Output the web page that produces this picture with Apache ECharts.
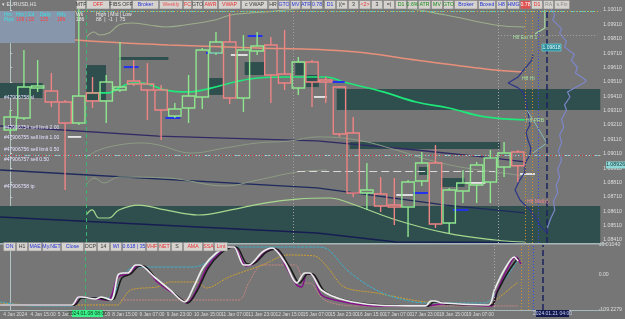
<!DOCTYPE html>
<html><head><meta charset="utf-8">
<script src="https://cdn.jsdelivr.net/npm/echarts@6/dist/echarts.min.js"></script>
<style>html,body{margin:0;padding:0;background:#767676;}#c{width:625px;height:319px;}</style>
</head><body><div id="c"></div>
<script>
// ---------- DATA ----------
// H8 candles (index = candle number)
const candleOpen  = [1.09175,1.09259,1.09467,1.09447,1.09370,1.09224,1.09433,1.09377,1.09453,1.09516,1.09495,1.09453,1.09273,1.09328,1.09405,1.09711,1.09787,1.09398,1.09725,1.09767,1.09565,1.09467,1.09648,1.09523,1.09474,1.09154,1.08737,1.08730,1.08653,1.08640,1.08820,1.08946,1.08528,1.08751,1.08793,1.08813,1.08918,1.09022];
const candleClose = [1.09266,1.09474,1.09481,1.09370,1.09224,1.09412,1.09377,1.09509,1.09474,1.09495,1.09453,1.09314,1.09321,1.09412,1.09732,1.09787,1.09398,1.09732,1.09760,1.09558,1.09502,1.09648,1.09509,1.09509,1.09147,1.08737,1.08758,1.08647,1.08640,1.08813,1.08946,1.08521,1.08758,1.08807,1.08932,1.08980,1.09015,1.08926];
const candleLow   = [1.09147,1.09245,1.09440,1.09335,1.08758,1.09210,1.09328,1.09224,1.09440,1.09481,1.09245,1.09106,1.09259,1.09224,1.09321,1.09697,1.09356,1.09300,1.09697,1.09363,1.09453,1.09419,1.09335,1.09363,1.09127,1.08709,1.08619,1.08605,1.08514,1.08431,1.08786,1.08493,1.08459,1.08667,1.08667,1.08667,1.08848,1.08813];
const candleHigh  = [1.09314,1.09732,1.09662,1.09572,1.09384,1.10024,1.09544,1.09558,1.09787,1.09662,1.09641,1.09488,1.09363,1.09558,1.09746,1.09857,1.09989,1.09836,1.09857,1.09822,1.09871,1.09683,1.09662,1.09544,1.09481,1.09266,1.08946,1.08848,1.08841,1.08827,1.09022,1.09071,1.08772,1.08897,1.08953,1.09036,1.09092,1.09036];
const lastPrice = 1.08926;

// indicator lines [time (H8 bars), price]
const maSalmon = [[-0.74,1.09871],[4.82,1.09801],[11.53,1.09767],[18.03,1.09746],[23.08,1.09732],[25.97,1.09711],[29.58,1.09662],[34.64,1.09600],[37.38,1.09579]];
const maGreen = [[5.54,1.09433],[7.20,1.09433],[7.92,1.09467],[8.86,1.09502],[9.58,1.09502],[11.31,1.09453],[12.97,1.09440],[14.64,1.09467],[16.37,1.09509],[18.03,1.09537],[20.41,1.09544],[23.08,1.09544],[24.31,1.09509],[27.20,1.09440],[29.58,1.09370],[31.96,1.09328],[34.64,1.09266],[37.52,1.09245]];
const bandUpper = [[5.54,1.09822],[6.12,1.09857],[6.48,1.09836],[7.20,1.09850],[7.92,1.09906],[8.86,1.09920],[10.09,1.09906],[11.31,1.09892],[12.76,1.09906],[14.92,1.09940],[16.08,1.09975],[18.53,1.09996],[22.36,1.10024],[28.14,1.10024],[31.75,1.09975],[35.36,1.09906],[37.52,1.09892]];
const bandMid = [[5.54,1.08987],[6.48,1.09036],[7.92,1.09071],[9.58,1.09085],[10.81,1.09071],[13.19,1.09015],[15.65,1.09050],[18.03,1.09085],[20.41,1.09099],[22.36,1.09127],[25.25,1.09106],[28.14,1.09036],[30.52,1.08967],[33.19,1.08911],[35.36,1.08883],[37.52,1.08855]];
const bandMid2 = [[5.54,1.08793],[6.12,1.08841],[6.84,1.08807],[7.92,1.08848],[11.53,1.08841],[15.65,1.08786],[18.03,1.08827],[20.92,1.08883],[23.08,1.08897]];
const bandLower = [[5.54,1.08584],[5.97,1.08619],[6.48,1.08563],[7.20,1.08563],[7.92,1.08619],[9.36,1.08653],[11.31,1.08619],[13.70,1.08584],[16.08,1.08619],[18.53,1.08667],[20.92,1.08695],[23.30,1.08702],[24.53,1.08674],[28.14,1.08549],[31.75,1.08459],[35.36,1.08410],[37.52,1.08396]];
const navy1 = [[-0.74,1.09203],[10.81,1.09133],[22.36,1.09099],[29.58,1.09036],[34.64,1.08987],[37.52,1.08953]];
const navy2 = [[-0.74,1.08897],[22.36,1.08772],[31.75,1.08653],[37.52,1.08598]];
const navy3 = [[-0.74,1.08570],[22.36,1.08459],[28.14,1.08396],[37.52,1.08392]];

// volume-profile outlines [time, price]
const profileA = [[39.33,1.10031],[39.69,1.09975],[39.55,1.09940],[40.19,1.09880],[40.05,1.09850],[40.55,1.09790],[40.41,1.09753],[41.13,1.09700],[40.90,1.09662],[41.35,1.09610],[41.20,1.09572],[42.00,1.09520],[41.80,1.09502],[40.62,1.09440],[40.80,1.09405],[40.41,1.09350],[40.55,1.09314],[40.19,1.09250],[40.35,1.09196],[40.05,1.09140],[40.19,1.09085],[39.95,1.09030],[40.19,1.08967],[39.91,1.08900],[40.05,1.08848],[39.80,1.08790],[39.91,1.08737],[39.60,1.08680],[39.69,1.08619],[39.40,1.08560],[39.18,1.08500],[39.11,1.08459]];
const profileB = [[38.10,1.09700],[38.03,1.09662],[37.50,1.09600],[37.02,1.09544],[36.29,1.09502],[37.00,1.09470],[37.38,1.09440],[37.55,1.09390],[37.67,1.09335],[37.80,1.09270],[37.88,1.09210],[37.60,1.09160],[37.74,1.09106],[37.95,1.09050],[37.88,1.09001],[37.52,1.08940],[37.52,1.08883],[37.10,1.08820],[36.80,1.08758],[37.16,1.08688],[37.88,1.08619],[38.30,1.08560],[38.61,1.08514],[39.11,1.08459]];
const profileC = [[38.97,1.10010],[38.97,1.09885],[38.25,1.09843]];
const profileD = [[37.67,1.09314],[38.40,1.09200],[39.11,1.09085],[38.11,1.09015]];

// zones [t1, t2, priceTop, priceBottom]
const zones = [[-1,44,1.08647,1.0830],[23.80,44,1.09460,1.09314],[24.74,35.72,1.09092,1.09043],[-1,2.36,1.09502,1.09398],[5.54,6.98,1.09627,1.09384],[7.92,11.53,1.09683,1.09662],[14.42,15.50,1.09537,1.09419],[17.09,18.53,1.09648,1.09558],[20.78,21.50,1.09641,1.09558],[21.57,22.50,1.09558,1.09474],[29.80,30.52,1.08918,1.08862],[31.39,33.12,1.08841,1.08779]];
// horizontal levels
const levelPrices = [1.09746,1.09565,1.09384,1.09168,1.09099,1.09015,1.08953,1.08926,1.08765,1.08626];
// partial levels [t1, t2, price]
const partialLevels = [[20.92,35.36,1.08890],[35.36,44,1.08973],[35.57,42.8,1.09836]];
// short marks [t1, t2, price]
const whiteMarks = [[4.20,5.18,1.09127],[16.08,17.31,1.09697],[22.14,23.08,1.09405],[28.14,29.36,1.08723],[33.19,34.64,1.08807],[37.16,38.25,1.08869]];
const blueMarks = [[8.28,9.36,1.09613],[11.31,12.40,1.09259],[14.27,15.36,1.09711],[17.31,18.39,1.09829],[23.44,24.38,1.09509],[29.36,30.45,1.08737],[32.25,33.41,1.08619]];
// vertical lines (time)
const vLines = [5.54,20.63,35.57,37.52,38.03,38.46,39.11];

// oscillator [time, value]
const oscWhite = [[-0.74,-93.6],[4.53,-93.6],[5.03,-68.8],[5.25,-68.8],[6.26,-75.0],[6.69,-68.8],[7.42,-78.1],[7.92,-0.3],[8.28,5.9],[8.64,5.9],[9.22,30.8],[9.51,30.8],[10.59,-6.5],[11.75,-47.0],[12.83,-84.3],[13.48,-37.6],[14.20,24.5],[15.14,68.1],[16.08,86.8],[16.44,86.8],[17.16,30.8],[17.52,30.8],[18.53,71.2],[19.26,83.7],[20.20,37.0],[21.06,-25.2],[21.64,5.9],[22.00,5.9],[22.87,-47.0],[24.53,-78.1],[26.91,-93.6],[30.52,-96.7],[30.88,-81.2],[31.18,-81.2],[31.75,-87.4],[35.14,-93.6],[35.57,-47.0],[36.29,15.2],[37.02,55.7],[37.31,43.2]];
const oscBlack = [[-0.74,-93.6],[4.74,-93.6],[5.25,-71.9],[6.48,-71.9],[7.20,-78.1],[7.63,-75.0],[8.21,-9.7],[8.86,2.8],[9.51,27.7],[9.80,27.7],[10.81,-15.9],[12.11,-59.4],[13.05,-87.4],[13.77,-47.0],[14.56,21.4],[15.43,65.0],[16.37,86.8],[16.73,83.7],[17.45,33.9],[17.81,33.9],[18.82,71.2],[19.55,80.6],[20.49,27.7],[21.28,-25.2],[21.86,2.8],[22.22,2.8],[23.08,-50.1],[24.89,-81.2],[27.42,-93.6],[30.74,-96.7],[31.10,-84.3],[31.46,-84.3],[32.11,-90.5],[35.36,-93.6],[35.79,-53.2],[36.58,9.0],[37.31,52.6]];
const oscPurple = [[-0.74,-93.6],[4.67,-93.6],[5.03,-68.8],[5.75,-71.9],[7.20,-78.1],[7.92,-6.5],[8.64,2.8],[9.36,27.7],[9.73,27.7],[10.81,-22.1],[12.25,-65.6],[12.97,-87.4],[13.70,-47.0],[14.42,21.4],[15.29,65.0],[16.23,86.8],[16.58,83.7],[17.09,40.1],[17.31,27.7],[17.88,33.9],[18.75,71.2],[19.47,80.6],[20.20,30.8],[21.06,-31.4],[21.42,-37.6],[21.79,2.8],[22.22,-0.3],[22.87,-62.5],[24.53,-84.3],[26.91,-96.7],[30.52,-96.7],[31.75,-90.5],[35.36,-96.7],[35.72,-56.3],[36.44,12.1],[37.16,55.7],[37.52,33.9]];
const oscCyan = [[-0.74,-84.3],[1.64,-96.7],[4.53,-96.7],[5.03,-71.9],[7.42,-71.9],[7.92,-31.4],[8.86,21.4],[9.58,24.5],[13.48,24.5],[14.64,43.2],[16.08,86.8],[22.36,86.8],[23.30,80.6],[24.74,15.2],[26.48,-37.6],[28.14,-68.8],[30.52,-87.4],[34.85,-87.4],[36.29,-15.9],[37.31,46.3]];
const oscOrange = [[-0.74,-87.4],[1.64,-93.6],[7.92,-93.6],[8.14,-84.3],[8.86,-47.0],[10.81,-37.6],[11.75,-22.1],[13.70,-22.1],[14.42,-40.8],[16.08,-6.5],[18.53,30.8],[20.41,61.9],[22.36,58.8],[23.30,24.5],[24.53,-37.6],[26.91,-56.3],[30.52,-84.3],[35.14,-93.6],[35.87,-71.9],[37.31,-22.1]];
const oscRosy = [[8.14,-78.1],[16.80,-78.1],[17.52,-25.2],[18.53,30.8],[20.92,30.8],[21.64,-25.2],[22.00,-25.2],[23.08,-78.1],[25.25,-96.7],[37.31,-96.7]];

// axes / ticks
const priceTicks = [1.08410,1.08510,1.08610,1.08710,1.08810,1.08910,1.09010,1.09110,1.09210,1.09310,1.09410,1.09510,1.09610,1.09710,1.09810,1.09910,1.10010];
const timeTickT = [-0.5,1.5,3.5,5.5,7.5,9.5,11.5,13.5,15.5,17.5,19.5,21.5,23.5,25.5,27.5,29.5,31.5,33.5,35.5];
const timeLabels = ["4 Jan 2024","4 Jan 15:00","5 Jan 07:00","5 Jan 23:00","8 Jan 15:00","9 Jan 07:00","9 Jan 23:00","10 Jan 15:00","11 Jan 07:00","11 Jan 23:00","12 Jan 15:00","15 Jan 07:00","15 Jan 23:00","16 Jan 15:00","17 Jan 07:00","17 Jan 23:00","18 Jan 15:00","19 Jan 07:00","19 Jan 23:00"];
const oscMin = -109.2279, oscMax = 93.0104;
const priceMin = 1.083891, priceMax = 1.100796;
const tMin = -0.744, tMax = 43.01;

// ---------- CHART ----------
const FONT = '"Liberation Sans", Arial, sans-serif';
const chart = echarts.init(document.getElementById('c'), null, {width:625, height:319});

const candleData = candleOpen.map((o,i)=>[i,o,candleClose[i],candleLow[i],candleHigh[i]]);
function candleRender(params, api){
  const x=api.value(0), o=api.value(1), c=api.value(2), l=api.value(3), h=api.value(4);
  const pO=api.coord([x,o]), pC=api.coord([x,c]), pL=api.coord([x,l]), pH=api.coord([x,h]);
  const w=api.size([0.9,0])[0];
  const col = c>=o ? '#8fe68f' : '#ee8484';
  const top=Math.min(pO[1],pC[1]), bot=Math.max(pO[1],pC[1]);
  return {type:'group', children:[
    {type:'line', shape:{x1:pH[0],y1:pH[1],x2:pH[0],y2:top}, style:{stroke:col,lineWidth:1.4}},
    {type:'line', shape:{x1:pL[0],y1:bot,x2:pL[0],y2:pL[1]}, style:{stroke:col,lineWidth:1.4}},
    {type:'rect', shape:{x:pO[0]-w/2,y:top,width:w,height:Math.max(bot-top,1)}, style:{fill:'none',stroke:col,lineWidth:1.4}}
  ]};
}
function segRenderer(color, width){
  return function(params, api){
    const a=api.coord([api.value(0),api.value(2)]), b=api.coord([api.value(1),api.value(2)]);
    return {type:'line', shape:{x1:a[0],y1:a[1],x2:b[0],y2:b[1]}, style:{stroke:color,lineWidth:width}};
  };
}
function ln(data, color, width, opts){
  return Object.assign({type:'line', data, xAxisIndex:0, yAxisIndex:0, showSymbol:false, symbol:'none', silent:true,
    lineStyle:{color, width}, z:3}, opts||{});
}
function osc(data, color, width, type, opts){
  return Object.assign({type:'line', data, xAxisIndex:1, yAxisIndex:1, showSymbol:false, symbol:'none', silent:true, smooth:0.3,
    lineStyle:{color, width, type:type||'solid'}, z:4}, opts||{});
}
const levelStyles = [
  {color:'#50c8c8',type:[5,2,1,2]},{color:'#c8b848',type:[1,2]},{color:'#c84848',type:[5,2,1,2]},
  {color:'#b8c838',type:[6,2,2,2]},{color:'#b8c838',type:[6,2,2,2]},{color:'#b8c838',type:[4,3]},
  {color:'#c8c040',type:[3,1]},{color:'#b8c0c8',type:'solid'},{color:'#c04848',type:[5,2,1,2]},{color:'#58b0b0',type:[1,2]}
];
const partialStyles = [{color:'#d8d8d8',type:[8,4]},{color:'#d8d8d8',type:[8,4]},{color:'#a8a8a8',type:[1,2]}];
const vStyles = [
  {color:'#3cb371',type:[4,3],width:1},{color:'#a0a0a0',type:[1,2],width:1},{color:'#a8a8a8',type:[1,2],width:1},
  {color:'#d09030',type:[1,2],width:1},{color:'#d09030',type:[1,2],width:1},{color:'#3848e8',type:[1,2],width:1},{color:'#1c2260',type:[6,3],width:1.5}
];
const vInOsc = [true,false,true,true,true,true,true];

function vMark(indices){
  return {symbol:['none','none'], silent:true, label:{show:false},
    data: indices.map(i=>({xAxis:vLines[i], lineStyle:{color:vStyles[i].color,type:vStyles[i].type,width:vStyles[i].width}}))};
}

const txt = (text,x,y,color,opts)=>Object.assign({type:'text', x, y, z:120, silent:true,
  style:Object.assign({text, fill:color, font:'5.5px '+FONT, textVerticalAlign:'middle', verticalAlign:'middle'}, opts||{})});
function button(label,x1,x2,y,color,bg){
  return [
    {type:'rect', z:110, silent:true, shape:{x:x1+0.5,y:y,width:x2-x1-1,height:8.5}, style:{fill:bg||'#d6d3ce',stroke:'#8c8c8c',lineWidth:0.6}},
    txt(label,(x1+x2)/2,y+4.4,color,{textAlign:'center',align:'center',font:'5.2px '+FONT})
  ];
}
const DK='#383838', BL='#2434d4', RD='#e83030', GR='#188818', GY='#8a8a8a';
const topButtons = [['MTF',76,86,DK],['OFF',86,110,RD],['FIBS OFF',110,132,DK],['Broker',132,159,BL],['Weekly',159,183,'#e85858'],['FC',183,192,RD],['GTO',192,203,DK],['AWR',203,218,RD],['VWAP',218,241,RD],['c VWAP',241,268,DK],['HR',268,278,DK],['GTO',278,290,BL],['MV',290,301,BL],['ATR',301,311,BL],['0.78',311,323,BL],['D1',324,336,BL],['|(=',336,348,DK],['3',348,359,DK],['<2>',359,371,RD],['3',371,383,DK],['=|',383,395,DK],['D1',395,407,GR],['0.6%',407,418,GR],['ATR',418,431,GR],['MV',431,443,GR],['GTO',443,454,GR],['Broker',454,478,BL],['Boxed',478,496,BL],['H8',496,507,BL],['HMG',507,520,BL],['0.78',520,531,'#ffffff','#e05050'],['D1',531,543,RD],['RA',543,554,GY],['s.Fix',554,570,GY]];
const botButtons = [['ON',3,16,BL],['H1',16,28,DK],['MAE',28,42,BL],['My.NET',42,61,BL],['Close',61,84,BL],['DCP',84,97,DK],['14',97,110,DK],['WI',110,122,BL],['0.618 | 35',122,146,BL],['VHF',146,158,RD],['NET',158,171,RD],['S',171,183,DK],['AMA',183,203,RD],['SSA',203,214,RD],['Lmt',214,228,RD]];

const graphics = [];
topButtons.forEach(b=>graphics.push(...button(b[0],b[1],b[2],0.5,b[3],b[4])));
botButtons.forEach(b=>graphics.push(...button(b[0],b[1],b[2],242.5,b[3],b[4])));
graphics.push(txt('\u25BE EURUSD,H1',2,4.5,'#e4e4e4',{font:'5.2px '+FONT}));
graphics.push({type:'rect', z:100, silent:true, shape:{x:0,y:11,width:75,height:32}, style:{fill:'#8796aa'}});
[['Hrs',4,'#40e0e0'],['Hrs | Cd',16,'#40e0e0'],['Daily',40,'#40e0e0'],['Hrly',57,'#40e0e0'],['Wk',76,'#e8e8e8'],['High | Mid | Low',96,'#e8e8e8']].forEach(a=>graphics.push(txt(a[0],a[1],15,a[2],{font:'5px '+FONT})));
[['Pips',4,'#40e0e0'],['109 | 28',16,'#ff4040'],['125',40,'#ff4040'],['186',57,'#ff4040'],['186',76,'#e8e8e8'],['88  |  -1  |  75',96,'#e8e8e8']].forEach(a=>graphics.push(txt(a[0],a[1],20,a[2],{font:'5px '+FONT})));
[['#47906758 sl',98],['#47906754 sell limit 2.00',128],['#47906755 sell limit 1.00',138],['#47906756 sell limit 0.50',150],['#47906757 sell 0.50',159.5],['#47906758 tp',187]].forEach(a=>graphics.push(txt(a[0],4,a[1],'#e6e0ff',{font:'5px '+FONT})));
graphics.push(txt('H8 Ext H 1',513,38,'#a8e0a0',{font:'5px '+FONT}));
graphics.push({type:'rect', z:115, silent:true, shape:{x:542,y:44,width:19,height:7}, style:{fill:'#2a8898',stroke:'#70e8e8',lineWidth:0.6}});
graphics.push(txt('1.09818',551.5,47.5,'#e8ffff',{textAlign:'center',align:'center',font:'5px '+FONT}));
graphics.push(txt('H8 Hi',522,79,'#a8e0a0',{font:'5px '+FONT}));
graphics.push(txt('H8 PRB',526,121,'#a8e0a0',{font:'5px '+FONT}));
graphics.push(txt('H8 Mid(x)',527,202,'#f08888',{font:'5px '+FONT}));
// current price box on axis
graphics.push({type:'rect', z:115, silent:true, shape:{x:606,y:161.5,width:19,height:7}, style:{fill:'#8ed8d8'}});
graphics.push(txt('1.08926',615.5,165,'#183838',{textAlign:'center',align:'center',font:'5.3px '+FONT}));
// time boxes
graphics.push({type:'rect', z:115, silent:true, shape:{x:72,y:310,width:31,height:7}, style:{fill:'#3af08a'}});
graphics.push(txt('2024.01.08 08:00',87.5,313.5,'#103818',{textAlign:'center',align:'center',font:'5px '+FONT}));
graphics.push({type:'rect', z:115, silent:true, shape:{x:536,y:310,width:33,height:7}, style:{fill:'#121a4c'}});
graphics.push(txt('2024.01.21 04:00',552.5,313.5,'#c8d0ff',{textAlign:'center',align:'center',font:'5px '+FONT}));
// panel separators
graphics.push({type:'rect', z:90, silent:true, shape:{x:0,y:243,width:606,height:1.5}, style:{fill:'#a8b8b8'}});
graphics.push({type:'rect', z:90, silent:true, shape:{x:0,y:310,width:606,height:1}, style:{fill:'#a8b8b8'}});

const option = {
  backgroundColor:'#767676',
  animation:false,
  textStyle:{fontFamily:FONT},
  grid:[{left:0,right:19,top:0,height:243,show:false},{left:0,right:19,top:245,height:65,show:false}],
  xAxis:[
    {type:'value',gridIndex:0,min:tMin,max:tMax,axisLine:{show:false},axisTick:{show:false},axisLabel:{show:false},splitLine:{show:false}},
    {type:'value',gridIndex:1,min:tMin,max:tMax,position:'bottom',axisLine:{show:false},
      axisTick:{show:false},splitLine:{show:false},
      axisLabel:{customValues:timeTickT,color:'#dcdcdc',fontSize:4.8,fontFamily:FONT,margin:1.8,align:'left',
        formatter:v=>{const k=Math.round((v+0.5)/2);return timeLabels[k]||'';}}}
  ],
  yAxis:[
    {type:'value',gridIndex:0,position:'right',min:priceMin,max:priceMax,splitLine:{show:false},
      axisLine:{show:true,lineStyle:{color:'#b0c4c4',width:1}},
      axisTick:{show:true,customValues:priceTicks,length:2,inside:false,lineStyle:{color:'#c8c8c8'}},
      axisLabel:{customValues:priceTicks,color:'#dedede',fontSize:5.2,fontFamily:FONT,margin:3,formatter:v=>v.toFixed(5)}},
    {type:'value',gridIndex:1,position:'right',min:oscMin,max:oscMax,splitLine:{show:false},
      axisLine:{show:true,lineStyle:{color:'#b0c4c4',width:1}},
      axisTick:{show:false},
      axisLabel:{customValues:[oscMin,0,oscMax],color:'#dedede',fontSize:5.2,fontFamily:FONT,margin:3,
        formatter:v=>v>90?'93.01040':(v<-100?'-109.2279':'0.00')}}
  ],
  series:[
    {type:'line',data:[],xAxisIndex:0,yAxisIndex:0,silent:true,z:1,
      markArea:{silent:true,itemStyle:{color:'#2f4f4f',opacity:1},
        data:zones.map(zn=>[{coord:[zn[0],zn[2]]},{coord:[zn[1],zn[3]]}])}},
    {type:'line',data:[],xAxisIndex:0,yAxisIndex:0,silent:true,z:2,
      markLine:{symbol:['none','none'],silent:true,label:{show:false},
        data:levelPrices.map((p,i)=>({yAxis:p,lineStyle:{color:levelStyles[i].color,type:levelStyles[i].type,width:1}}))
          .concat(partialLevels.map((s,i)=>[{coord:[s[0],s[2]],lineStyle:{color:partialStyles[i].color,type:partialStyles[i].type,width:1}},{coord:[s[1],s[2]]}]))}},
    {type:'line',data:[],xAxisIndex:0,yAxisIndex:0,silent:true,z:2,markLine:vMark([0,1,2,3,4,5,6])},
    {type:'line',data:[],xAxisIndex:1,yAxisIndex:1,silent:true,z:2,markLine:vMark(vLines.map((v,i)=>i).filter(i=>vInOsc[i]))},
    ln(navy3,'#161d52',1.5),
    ln(navy2,'#1e2a5c',1.3),
    ln(navy1,'#302a64',1.3),
    ln(bandMid2,'#8c9c84',1,{smooth:0.4}),
    ln(bandMid,'#8c9c84',1,{smooth:0.4}),
    ln(bandLower,'#a6d88e',1.2,{smooth:0.4}),
    ln(bandUpper,'#9cae8c',1.1,{smooth:0.4}),
    ln(maSalmon,'#e8907c',1.5,{smooth:0.3}),
    ln(maGreen,'#1ee87a',1.7,{smooth:0.4}),
    {type:'custom',xAxisIndex:0,yAxisIndex:0,silent:true,z:4,clip:true,renderItem:segRenderer('#ffffff',1.5),encode:{x:[0,1],y:2},data:whiteMarks},
    {type:'custom',xAxisIndex:0,yAxisIndex:0,silent:true,z:4,clip:true,renderItem:segRenderer('#2232ee',2),encode:{x:[0,1],y:2},data:blueMarks},
    ln(profileB,'#2c3488',1.2,{z:4}),
    ln(profileA,'#7c86c8',1.2,{z:4}),
    ln(profileC,'#a8d8a0',1.2,{z:4}),
    ln(profileD,'#88b8b8',1,{z:4}),
    {type:'custom',xAxisIndex:0,yAxisIndex:0,silent:true,z:5,clip:true,renderItem:candleRender,encode:{x:0,y:[1,2,3,4]},data:candleData},
    osc(oscRosy,'#c88484',1,[2,1]),
    osc(oscOrange,'#d0a030',1,[2,1]),
    osc(oscCyan,'#3cb0cc',1,[3,1]),
    osc(oscPurple,'#86108a',1.5),
    osc(oscBlack,'#1a1a1a',1.5),
    osc(oscWhite,'#ececec',1.7)
  ],
  graphic:{elements:graphics}
};
chart.setOption(option);
</script></body></html>
